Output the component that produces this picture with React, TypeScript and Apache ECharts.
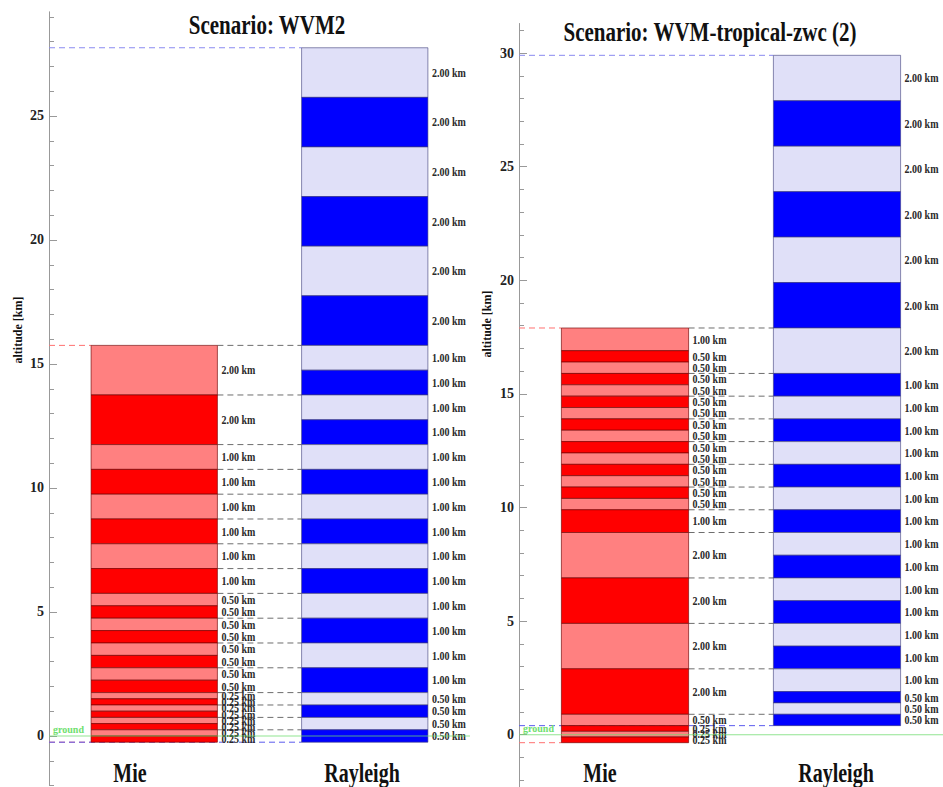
import React, { useEffect, useRef } from 'react';
import * as echarts from 'echarts';

// ---------- data ----------
const leftTitle = 'Scenario: WVM2';
const rightTitle = 'Scenario: WVM-tropical-zwc (2)';
const categories = ['Mie', 'Rayleigh'];
const yAxisName = 'altitude [km]';
const groundLabel = 'ground';

// layer thicknesses in km, listed from top to bottom
const leftMieLayers = [2, 2, 1, 1, 1, 1, 1, 1, 0.5, 0.5, 0.5, 0.5, 0.5, 0.5, 0.5, 0.5, 0.25, 0.25, 0.25, 0.25, 0.25, 0.25, 0.25, 0.25];
const leftMieBottom = -0.25;
const leftRayleighLayers = [2, 2, 2, 2, 2, 2, 1, 1, 1, 1, 1, 1, 1, 1, 1, 1, 1, 1, 1, 1, 0.5, 0.5, 0.5, 0.5];
const leftRayleighBottom = -0.25;

const rightMieLayers = [1, 0.5, 0.5, 0.5, 0.5, 0.5, 0.5, 0.5, 0.5, 0.5, 0.5, 0.5, 0.5, 0.5, 0.5, 1, 2, 2, 2, 2, 0.5, 0.25, 0.25, 0.25];
const rightMieBottom = -0.35;
const rightRayleighLayers = [2, 2, 2, 2, 2, 2, 2, 1, 1, 1, 1, 1, 1, 1, 1, 1, 1, 1, 1, 1, 1, 0.5, 0.5, 0.5];
const rightRayleighBottom = 0.4;

const leftMinorTicks = [-2, -1, 0, 1, 2, 3, 4, 5, 6, 7, 8, 9, 10, 11, 12, 13, 14, 15, 16, 17, 18, 19, 20, 21, 22, 23, 24, 25, 26, 27, 28, 29];
const leftMajorTicks = [0, 5, 10, 15, 20, 25];
const rightMinorTicks = [-2, -1, 0, 1, 2, 3, 4, 5, 6, 7, 8, 9, 10, 11, 12, 13, 14, 15, 16, 17, 18, 19, 20, 21, 22, 23, 24, 25, 26, 27, 28, 29, 30, 31];
const rightMajorTicks = [0, 5, 10, 15, 20, 25, 30];

// ---------- styles / layout ----------
const SERIF = '"Liberation Serif", "DejaVu Serif", serif';
const MIE_COLORS = ['#ff8080', '#ff0000'];
const RAY_COLORS = ['#e0e0f8', '#0000ff'];
const MIE_X = [0.1, 0.4];
const RAY_X = [0.6, 0.9];

const panels = [
  {
    title: leftTitle, titleX: 267, titleY: 25,
    grid: { left: 49, top: 11.8, width: 421, height: 773.8 },
    yMin: -2, yMax: 29.2,
    minor: leftMinorTicks, major: leftMajorTicks,
    mie: leftMieLayers, mieBottom: leftMieBottom,
    ray: leftRayleighLayers, rayBottom: leftRayleighBottom,
    nameX: 18, nameY: 330,
    catX: [130, 362],
  },
  {
    title: rightTitle, titleX: 710, titleY: 32,
    grid: { left: 519, top: 23.5, width: 428, height: 763.8 },
    yMin: -2.3, yMax: 31.3,
    minor: rightMinorTicks, major: rightMajorTicks,
    mie: rightMieLayers, mieBottom: rightMieBottom,
    ray: rightRayleighLayers, rayBottom: rightRayleighBottom,
    nameX: 487, nameY: 324,
    catX: [600, 836],
  },
];

const r3 = (v: number) => Math.round(v * 1000) / 1000;

function buildLayers(thick: number[], bottom: number, xr: number[], kind: number) {
  const total = thick.reduce((a, b) => a + b, 0);
  let top = bottom + total;
  const items: any[] = [];
  thick.forEach((t, i) => {
    const y1 = top;
    const y0 = top - t;
    items.push([xr[0], xr[1], r3(y0), r3(y1), i % 2, t, kind]);
    top = y0;
  });
  return { items, top: r3(bottom + total) };
}

function boundaries(thick: number[], bottom: number) {
  const s = new Set<number>();
  let y = bottom;
  s.add(r3(y));
  for (let i = thick.length - 1; i >= 0; i--) {
    y += thick[i];
    s.add(r3(y));
  }
  return s;
}

export default function App() {
  const ref = useRef<HTMLDivElement>(null);
  useEffect(() => {
    document.body.style.margin = '0';
    if (!ref.current) return;
    const chart = echarts.init(ref.current, null, { renderer: 'svg' });

    const grids: any[] = [];
    const xAxes: any[] = [];
    const yAxes: any[] = [];
    const series: any[] = [];
    const graphics: any[] = [];

    panels.forEach((p, pi) => {
      // two overlapping grids: one for minor ticks, one for major ticks + labels
      for (let k = 0; k < 2; k++) {
        const gi = pi * 2 + k;
        grids.push({ ...p.grid, containLabel: false });
        xAxes.push({ gridIndex: gi, type: 'value', min: 0, max: 1, show: false });
        yAxes.push({
          gridIndex: gi, type: 'value', min: p.yMin, max: p.yMax, position: 'left',
          axisLine: { show: k === 0, lineStyle: { color: '#999', width: 1 } },
          axisTick: {
            show: true, inside: true, length: k === 0 ? 5 : 8,
            customValues: k === 0 ? p.minor : p.major,
            lineStyle: { color: '#999', width: 1 },
          },
          axisLabel: k === 0 ? { show: false } : {
            show: true, customValues: p.major, margin: 5,
            color: '#222', fontFamily: SERIF, fontWeight: 'bold', fontSize: 14,
          },
          splitLine: { show: false },
        });
      }
      const gi = pi * 2;
      const mie = buildLayers(p.mie, p.mieBottom, MIE_X, 0);
      const ray = buildLayers(p.ray, p.rayBottom, RAY_X, 1);

      // dashed connector lines
      const mieB = boundaries(p.mie, p.mieBottom);
      const rayB = boundaries(p.ray, p.rayBottom);
      const dashes: any[] = [];
      Array.from(rayB).forEach((b) => {
        if (mieB.has(b) && b !== r3(p.rayBottom) && b <= mie.top) dashes.push([b, MIE_X[1], RAY_X[0], 0]);
      });
      dashes.push([mie.top, 0, MIE_X[0], 1]);
      dashes.push([r3(p.mieBottom), 0, MIE_X[0], 1]);
      dashes.push([ray.top, 0, RAY_X[0], 2]);
      dashes.push([r3(p.rayBottom), 0, RAY_X[0], 3]);
      const dashColors = ['#6e6e6e', '#ff7070', '#8a8af0', '#5a5aee'];

      series.push({
        type: 'custom', xAxisIndex: gi, yAxisIndex: gi, z: 1, silent: true,
        data: dashes,
        renderItem: (params: any, api: any) => {
          const y = api.value(0);
          const a = api.coord([api.value(1), y]);
          const b = api.coord([api.value(2), y]);
          return {
            type: 'line',
            shape: { x1: a[0], y1: a[1], x2: b[0], y2: b[1] },
            style: { stroke: dashColors[api.value(3)], lineWidth: 1, lineDash: [6, 4] },
          };
        },
      });

      series.push({
        type: 'custom', xAxisIndex: gi, yAxisIndex: gi, z: 3, silent: true,
        data: [...mie.items, ...ray.items],
        encode: { x: [0, 1], y: [2, 3] },
        renderItem: (params: any, api: any) => {
          const x0 = api.value(0), x1 = api.value(1), y0 = api.value(2), y1 = api.value(3);
          const ci = api.value(4), t = api.value(5), kind = api.value(6);
          const tl = api.coord([x0, y1]);
          const br = api.coord([x1, y0]);
          const fill = kind === 0 ? MIE_COLORS[ci] : RAY_COLORS[ci];
          const stroke = kind === 0 ? 'rgba(110,0,0,0.8)' : 'rgba(60,60,120,0.75)';
          return {
            type: 'group',
            children: [
              {
                type: 'rect',
                shape: { x: tl[0], y: tl[1], width: br[0] - tl[0], height: br[1] - tl[1] },
                style: { fill, stroke, lineWidth: 0.8 },
              },
              {
                type: 'text', x: br[0] + 4, y: (tl[1] + br[1]) / 2, scaleY: 1.15,
                style: {
                  text: Number(t).toFixed(2) + ' km', fill: '#2a2a2a',
                  font: 'bold 10px ' + SERIF, align: 'left', verticalAlign: 'middle',
                },
              },
            ],
          };
        },
      });

      // ground line
      series.push({
        type: 'custom', xAxisIndex: gi, yAxisIndex: gi, z: 5, silent: true,
        data: [[0, 0, 1]],
        renderItem: (params: any, api: any) => {
          const a = api.coord([api.value(1), api.value(0)]);
          const b = api.coord([api.value(2), api.value(0)]);
          return {
            type: 'group',
            children: [
              {
                type: 'line', shape: { x1: a[0], y1: a[1], x2: b[0], y2: b[1] },
                style: { stroke: 'rgba(110,220,110,0.75)', lineWidth: 1.2 },
              },
              {
                type: 'text', x: a[0] + 4, y: a[1] - 1,
                style: {
                  text: groundLabel, fill: '#6ee06e', font: 'bold 10px ' + SERIF,
                  align: 'left', verticalAlign: 'bottom',
                },
              },
            ],
          };
        },
      });

      graphics.push({
        type: 'text', x: p.titleX, y: p.titleY, scaleY: 1.25,
        style: { text: p.title, font: 'bold 21px ' + SERIF, fill: '#111', align: 'center', verticalAlign: 'middle' },
      });
      graphics.push({
        type: 'text', x: p.nameX, y: p.nameY, rotation: Math.PI / 2,
        style: { text: yAxisName, font: 'bold 12px ' + SERIF, fill: '#111', align: 'center', verticalAlign: 'middle' },
      });
      categories.forEach((c, ci) => {
        graphics.push({
          type: 'text', x: p.catX[ci], y: 773, scaleY: 1.35,
          style: { text: c, font: 'bold 20px ' + SERIF, fill: '#111', align: 'center', verticalAlign: 'middle' },
        });
      });
    });

    chart.setOption({
      animation: false,
      backgroundColor: '#ffffff',
      grid: grids,
      xAxis: xAxes,
      yAxis: yAxes,
      series,
      graphic: graphics,
    });
    return () => chart.dispose();
  }, []);
  return <div ref={ref} style={{ width: 943, height: 787 }} />;
}
